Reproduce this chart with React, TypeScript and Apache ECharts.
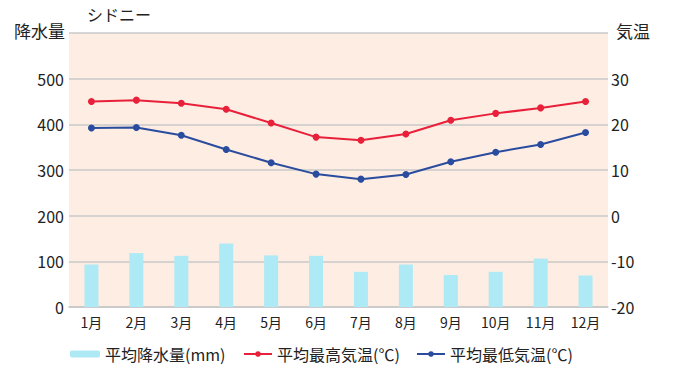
import React, { useEffect, useRef } from "react";
import * as echarts from "echarts";

const months = ["1月", "2月", "3月", "4月", "5月", "6月", "7月", "8月", "9月", "10月", "11月", "12月"];
const precipitation = [93, 118, 112, 139, 113, 112, 77, 93, 70, 77, 106, 69];
const maxTemp = [25.0, 25.3, 24.6, 23.3, 20.3, 17.2, 16.5, 17.9, 20.9, 22.4, 23.6, 25.0];
const minTemp = [19.2, 19.3, 17.6, 14.5, 11.6, 9.1, 8.0, 9.0, 11.8, 13.9, 15.6, 18.2];
const seriesNames = ["平均降水量(mm)", "平均最高気温(℃)", "平均最低気温(℃)"];

const FONT = "'Noto Sans CJK JP', 'Noto Sans', sans-serif";

export default function App() {
  const ref = useRef<HTMLDivElement>(null);
  useEffect(() => {
    const chart = echarts.init(ref.current!, undefined, { renderer: "svg" });
    const legendBase = {
      top: 346, itemHeight: 7, padding: 0,
      textStyle: { fontSize: 16, color: "#222", fontFamily: FONT },
    };
    chart.setOption({
      animation: false,
      textStyle: { fontFamily: FONT },
      grid: {
        left: 69, right: 72, top: 33, bottom: 76,
        show: true, backgroundColor: "#fdede3", borderWidth: 0,
      },
      graphic: [
        { type: "text", left: 87, top: 6, style: { text: "シドニー", font: `16px ${FONT}`, fill: "#222" } },
        { type: "text", left: 14, top: 22, style: { text: "降水量", font: `17px ${FONT}`, fill: "#222" } },
        { type: "text", left: 616, top: 22, style: { text: "気温", font: `17px ${FONT}`, fill: "#222" } },
      ],
      legend: [
        { ...legendBase, left: 70, itemWidth: 30, data: [seriesNames[0]] },
        { ...legendBase, left: 243, itemWidth: 28, data: [seriesNames[1]] },
        { ...legendBase, left: 416, itemWidth: 28, data: [seriesNames[2]] },
      ],
      xAxis: {
        type: "category", data: months,
        axisLine: { show: true, lineStyle: { color: "#c8c8c8", width: 1.5 } },
        axisTick: { show: false },
        axisLabel: { fontSize: 14, color: "#222", margin: 8 },
      },
      yAxis: [
        {
          type: "value", min: 0, max: 600, interval: 100,
          axisLine: { show: false }, axisTick: { show: false },
          axisLabel: { fontSize: 16, color: "#222", margin: 5, formatter: (v: number) => (v === 600 ? "" : String(v)) },
          splitLine: { lineStyle: { color: "#c8c8c8", width: 1.5 } },
        },
        {
          type: "value", min: -20, max: 40, interval: 10, position: "right",
          axisLine: { show: false }, axisTick: { show: false },
          axisLabel: { fontSize: 16, color: "#222", margin: 3, formatter: (v: number) => (v === 40 ? "" : String(v)) },
          splitLine: { show: false },
        },
      ],
      series: [
        {
          name: seriesNames[0], type: "bar", data: precipitation, barWidth: 14,
          itemStyle: { color: "#aeeaf5" }, yAxisIndex: 0,
        },
        {
          name: seriesNames[1], type: "line", data: maxTemp, yAxisIndex: 1,
          symbol: "circle", symbolSize: 7,
          lineStyle: { color: "#e8203a", width: 2 }, itemStyle: { color: "#e8203a" },
        },
        {
          name: seriesNames[2], type: "line", data: minTemp, yAxisIndex: 1,
          symbol: "circle", symbolSize: 7,
          lineStyle: { color: "#2a4c9f", width: 2 }, itemStyle: { color: "#2a4c9f" },
        },
      ],
    });
    return () => chart.dispose();
  }, []);
  return <div ref={ref} style={{ width: 680, height: 383, position: "absolute", left: 0, top: 0 }} />;
}
